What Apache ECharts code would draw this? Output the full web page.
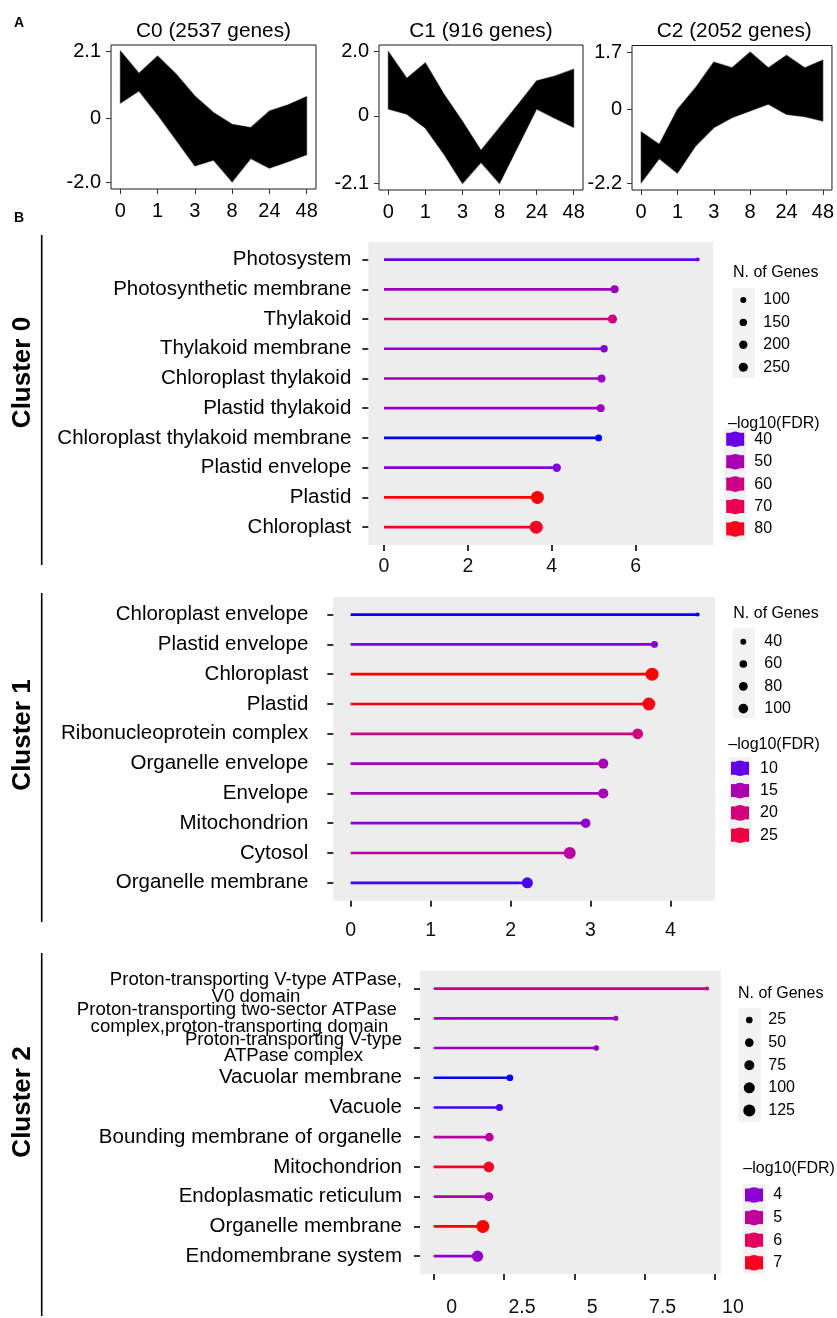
<!DOCTYPE html>
<html>
<head>
<meta charset="utf-8">
<script src="https://cdn.jsdelivr.net/npm/echarts@6/dist/echarts.min.js"></script>
<style>
  html, body { margin: 0; padding: 0; background: #fff; }
  #main { width: 837px; height: 1318px; }
</style>
</head>
<body>
<div id="main"></div>
<script>
// ---------- Panel A: expression profiles per cluster (envelope of all gene traces) ----------
const timeLabels = ['0', '1', '3', '8', '24', '48'];      // labelled sampling points (every second sample)
const profileNames = ['C0', 'C1', 'C2'];
const profileGeneCounts = [2537, 916, 2052];

const c0Upper = [2.12, 1.42, 1.96, 1.39, 0.71, 0.19, -0.18, -0.28, 0.24, 0.43, 0.69];
const c0Lower = [0.48, 0.86, 0.12, -0.68, -1.48, -1.30, -1.98, -1.25, -1.55, -1.35, -1.13];
const c1Upper = [2.00, 1.17, 1.65, 0.68, -0.17, -1.07, -0.36, 0.36, 1.09, 1.24, 1.45];
const c1Lower = [0.21, 0.05, -0.38, -1.19, -2.10, -1.45, -2.10, -0.94, 0.21, -0.08, -0.36];
const c2Upper = [-0.67, -1.04, 0.00, 0.65, 1.41, 1.24, 1.71, 1.24, 1.61, 1.24, 1.47];
const c2Lower = [-2.19, -1.47, -1.90, -1.09, -0.55, -0.25, -0.05, 0.15, -0.15, -0.22, -0.35];

const c0YTicks = [-2.0, 0, 2.1];
const c1YTicks = [-2.1, 0, 2.0];
const c2YTicks = [-2.2, 0, 1.7];

// ---------- Panel B: enriched cellular-component terms per cluster ----------
const c0Terms = ['Photosystem', 'Photosynthetic membrane', 'Thylakoid', 'Thylakoid membrane',
  'Chloroplast thylakoid', 'Plastid thylakoid', 'Chloroplast thylakoid membrane',
  'Plastid envelope', 'Plastid', 'Chloroplast'];
const c0Enrich = [7.48, 5.50, 5.45, 5.25, 5.19, 5.17, 5.12, 4.12, 3.66, 3.63];
const c0Genes = [71, 185, 250, 149, 169, 169, 123, 203, 611, 620];
const c0LogFdr = [40, 48, 60, 44, 47, 47.5, 35.3, 43, 82.3, 78];
const c0SizeBreaks = [100, 150, 200, 250];
const c0FdrBreaks = [40, 50, 60, 70, 80];
const c0XTicks = [0, 2, 4, 6];

const c1Terms = ['Chloroplast envelope', 'Plastid envelope', 'Chloroplast', 'Plastid',
  'Ribonucleoprotein complex', 'Organelle envelope', 'Envelope', 'Mitochondrion',
  'Cytosol', 'Organelle membrane'];
const c1Enrich = [4.34, 3.80, 3.77, 3.73, 3.59, 3.16, 3.16, 2.94, 2.74, 2.21];
const c1Genes = [32, 50, 202, 196, 126, 107, 108, 98, 166, 135];
const c1LogFdr = [8.1, 11.7, 29, 28.5, 19, 14.4, 14.4, 12.3, 16.5, 9.1];
const c1SizeBreaks = [40, 60, 80, 100];
const c1FdrBreaks = [10, 15, 20, 25];
const c1XTicks = [0, 1, 2, 3, 4];

const c2Terms = ['Proton-transporting V-type ATPase,\nV0 domain',
  'Proton-transporting two-sector ATPase \ncomplex,proton-transporting domain',
  'Proton-transporting V-type\nATPase complex', 'Vacuolar membrane', 'Vacuole',
  'Bounding membrane of organelle', 'Mitochondrion', 'Endoplasmatic reticulum',
  'Organelle membrane', 'Endomembrane system'];
const c2Enrich = [9.72, 6.48, 5.78, 2.71, 2.34, 1.98, 1.96, 1.96, 1.75, 1.56];
const c2Genes = [12, 14, 16, 25, 28, 51, 91, 55, 155, 106];
const c2LogFdr = [5.2, 4.2, 4.2, 3.2, 3.4, 4.85, 7.0, 4.6, 7.3, 4.1];
const c2SizeBreaks = [25, 50, 75, 100, 125];
const c2FdrBreaks = [4, 5, 6, 7];
const c2XTicks = [0, 2.5, 5, 7.5, 10];

const clusterLabels = ['Cluster 0', 'Cluster 1', 'Cluster 2'];

// ---------- helpers ----------
const FONT = 'Liberation Sans, Arial, Helvetica, sans-serif';

// blue -> red gradient interpolated in CIE Lab (like a continuous colour scale)
function toLin(c) { c /= 255; return c <= 0.04045 ? c / 12.92 : Math.pow((c + 0.055) / 1.055, 2.4); }
function fromLin(c) { c = Math.max(0, Math.min(1, c)); return c <= 0.0031308 ? 12.92 * c : 1.055 * Math.pow(c, 1 / 2.4) - 0.055; }
function rgbToLab(rgb) {
  const r = toLin(rgb[0]), g = toLin(rgb[1]), b = toLin(rgb[2]);
  const X = (0.4124 * r + 0.3576 * g + 0.1805 * b) / 0.95047;
  const Y = (0.2126 * r + 0.7152 * g + 0.0722 * b);
  const Z = (0.0193 * r + 0.1192 * g + 0.9505 * b) / 1.08883;
  const f = t => t > 0.008856 ? Math.cbrt(t) : 7.787 * t + 16 / 116;
  const fx = f(X), fy = f(Y), fz = f(Z);
  return [116 * fy - 16, 500 * (fx - fy), 200 * (fy - fz)];
}
function labToHex(lab) {
  const fy = (lab[0] + 16) / 116, fx = fy + lab[1] / 500, fz = fy - lab[2] / 200;
  const inv = t => t * t * t > 0.008856 ? t * t * t : (t - 16 / 116) / 7.787;
  const X = inv(fx) * 0.95047, Y = inv(fy), Z = inv(fz) * 1.08883;
  const r = 3.2406 * X - 1.5372 * Y - 0.4986 * Z;
  const g = -0.9689 * X + 1.8758 * Y + 0.0415 * Z;
  const b = 0.0557 * X - 0.2040 * Y + 1.0570 * Z;
  const h = v => Math.round(fromLin(v) * 255).toString(16).padStart(2, '0');
  return '#' + h(r) + h(g) + h(b);
}
const LAB_LOW = rgbToLab([0, 0, 255]);
const LAB_HIGH = rgbToLab([255, 0, 0]);
function fdrColor(v, lo, hi) {
  const t = Math.max(0, Math.min(1, (v - lo) / (hi - lo)));
  return labToHex([0, 1, 2].map(k => LAB_LOW[k] + t * (LAB_HIGH[k] - LAB_LOW[k])));
}
// point diameter: area-style size scale
const DOT_MIN = 4, DOT_MAX = 13;
function dotSize(n, lo, hi) {
  const t = Math.max(0, Math.min(1, (n - lo) / (hi - lo)));
  return DOT_MIN + (DOT_MAX - DOT_MIN) * Math.sqrt(t);
}

// ---------- layout ----------
const profileGrids = [
  { left: 111, top: 45, width: 205, height: 144 },
  { left: 379, top: 45, width: 204, height: 145 },
  { left: 632, top: 45.5, width: 204.5, height: 144.5 }
];
const profileYRange = [[-2.2, 2.3], [-2.3, 2.2], [-2.4, 1.9]];
const profileUpper = [c0Upper, c1Upper, c2Upper];
const profileLower = [c0Lower, c1Lower, c2Lower];
const profileYTicks = [c0YTicks, c1YTicks, c2YTicks];

const enrichGrids = [
  { left: 368.3, top: 241.7, width: 345, height: 303.3 },
  { left: 333.3, top: 596.7, width: 381.7, height: 304 },
  { left: 420, top: 970.7, width: 300.7, height: 311 }
];
const enrichSets = [
  { terms: c0Terms, enrich: c0Enrich, genes: c0Genes, fdr: c0LogFdr, xticks: c0XTicks, labelMargin: 17, xLabelMargin: 12, xPad: 0 },
  { terms: c1Terms, enrich: c1Enrich, genes: c1Genes, fdr: c1LogFdr, xticks: c1XTicks, labelMargin: 25, xLabelMargin: 20, xPad: 0 },
  { terms: c2Terms, enrich: c2Enrich, genes: c2Genes, fdr: c2LogFdr, xticks: c2XTicks, labelMargin: 18, xLabelMargin: 24, xPad: 36 }
];

const grids = [], xAxes = [], yAxes = [], series = [];

// Panel A grids
profileGrids.forEach((g, k) => {
  grids.push(Object.assign({ show: true, borderColor: '#1a1a1a', borderWidth: 1, backgroundColor: '#fff', containLabel: false }, g));
  xAxes.push({
    type: 'value', gridIndex: k, min: -0.5, max: 10.5, position: 'bottom',
    axisLine: { show: false, onZero: false }, splitLine: { show: false },
    axisTick: { show: true, length: 5, lineStyle: { color: '#333', width: 1 }, customValues: timeLabels.map((_, i) => i * 2) },
    axisLabel: { customValues: timeLabels.map((_, i) => i * 2), formatter: v => timeLabels[Math.round(v / 2)],
      showMinLabel: true, showMaxLabel: true, hideOverlap: false,
      color: '#000', fontSize: 20, fontFamily: FONT, margin: 12 }
  });
  yAxes.push({
    type: 'value', gridIndex: k, min: profileYRange[k][0], max: profileYRange[k][1], position: 'left',
    axisLine: { show: false, onZero: false }, splitLine: { show: false },
    axisTick: { show: true, length: 5, lineStyle: { color: '#333', width: 1 }, customValues: profileYTicks[k] },
    axisLabel: { customValues: profileYTicks[k], formatter: v => v === 0 ? '0' : v.toFixed(1),
      showMinLabel: true, showMaxLabel: true, hideOverlap: false,
      color: '#000', fontSize: 20, fontFamily: FONT, margin: 10 }
  });
  const up = profileUpper[k], lo = profileLower[k];
  series.push({
    type: 'custom', xAxisIndex: k, yAxisIndex: k, silent: true,
    data: up.map((u, i) => [i, u, lo[i]]),
    encode: { x: 0, y: [1, 2] },
    renderItem(params, api) {
      if (params.dataIndex !== 0) return null;
      const pts = [];
      for (let i = 0; i < up.length; i++) pts.push(api.coord([i, up[i]]));
      for (let i = lo.length - 1; i >= 0; i--) pts.push(api.coord([i, lo[i]]));
      return { type: 'polygon', shape: { points: pts },
        style: { fill: '#000', stroke: 'rgba(0,0,0,0.45)', lineWidth: 1.2, lineJoin: 'round' } };
    }
  });
});

// Panel B grids: term labels are split over two stacked y axes (even / odd rows)
// so that tall two-line labels never collide with their neighbours.
enrichGrids.forEach((g, j) => {
  const k = j + 3;
  const s = enrichSets[j];
  const maxV = Math.max(...s.enrich);
  grids.push(Object.assign({ show: true, borderWidth: 0, backgroundColor: '#EDEDED', containLabel: false }, g));
  xAxes.push({
    type: 'value', gridIndex: k, min: -0.05 * maxV, max: 1.05 * maxV, position: 'bottom',
    axisLine: { show: false, onZero: false }, splitLine: { show: false },
    axisTick: { show: true, length: 6, lineStyle: { color: '#333', width: 2 }, customValues: s.xticks },
    axisLabel: { customValues: s.xticks, color: '#111', fontSize: 19.5, fontFamily: FONT,
      showMinLabel: true, showMaxLabel: true, hideOverlap: false,
      margin: s.xLabelMargin, padding: [0, 0, 0, s.xPad] }
  });
  const nT = s.terms.length;
  const rows = s.terms.map((_, i) => i);
  const yIndexMain = yAxes.length;
  [0, 1].forEach(parity => {
    const vals = rows.filter(i => i % 2 === parity);
    yAxes.push({
      type: 'value', gridIndex: k, inverse: true, min: -0.6, max: nT - 1 + 0.6, position: 'left', offset: 0,
      axisLine: { show: false, onZero: false }, splitLine: { show: false },
      axisTick: { show: true, length: 6, lineStyle: { color: '#333', width: 2 }, customValues: vals },
      axisLabel: {
        customValues: vals,
        showMinLabel: true, showMaxLabel: true, hideOverlap: false,
        formatter: v => {
          const t = s.terms[Math.round(v)];
          if (t.indexOf('\n') < 0) return t;
          return t.split('\n').map(l => '{m|' + l + '}').join('\n');
        },
        color: '#000', fontSize: 20.5, fontFamily: FONT, margin: s.labelMargin, align: 'right',
        rich: { m: { fontSize: 18.6, lineHeight: 16.5, align: 'center', fontFamily: FONT, color: '#000' } }
      }
    });
  });
  const nLo = Math.min(...s.genes), nHi = Math.max(...s.genes);
  const fLo = Math.min(...s.fdr), fHi = Math.max(...s.fdr);
  series.push({
    type: 'custom', xAxisIndex: k, yAxisIndex: yIndexMain, silent: true,
    data: s.enrich.map((v, i) => [v, i, s.genes[i], s.fdr[i]]),
    encode: { x: 0, y: 1 },
    renderItem(params, api) {
      const v = api.value(0), i = api.value(1);
      const p0 = api.coord([0, i]), p1 = api.coord([v, i]);
      const col = fdrColor(api.value(3), fLo, fHi);
      const d = dotSize(api.value(2), nLo, nHi);
      return { type: 'group', children: [
        { type: 'line', shape: { x1: p0[0], y1: p0[1], x2: p1[0], y2: p1[1] }, style: { stroke: col, lineWidth: 2.7 } },
        { type: 'circle', shape: { cx: p1[0], cy: p1[1], r: d / 2 }, style: { fill: col } }
      ] };
    }
  });
});

// ---------- decorations: titles, panel letters, cluster labels, legends ----------
function txt(x, y, text, opt) {
  return {
    type: 'text', silent: true,
    style: Object.assign({ x, y, text, fill: '#000', fontFamily: FONT, fontSize: 16,
      align: 'left', verticalAlign: 'middle', textAlign: 'left', textVerticalAlign: 'middle' }, opt || {})
  };
}
const graphics = [];
graphics.push(txt(19, 23, 'A', { fontSize: 14, fontWeight: 'bold', align: 'center', textAlign: 'center' }));
graphics.push(txt(19, 218, 'B', { fontSize: 14, fontWeight: 'bold', align: 'center', textAlign: 'center' }));
profileGrids.forEach((g, k) => {
  graphics.push(txt(g.left + g.width / 2, 31, profileNames[k] + ' (' + profileGeneCounts[k] + ' genes)',
    { fontSize: 20.8, align: 'center', textAlign: 'center' }));
});

// cluster brackets on the left
const bracketSpans = [[235, 565], [593, 922], [953, 1316]];
const clusterLabelY = [372.5, 735, 1102];
bracketSpans.forEach((sp, j) => {
  graphics.push({ type: 'line', silent: true, shape: { x1: 41.7, y1: sp[0], x2: 41.7, y2: sp[1] },
    style: { stroke: '#000', lineWidth: 1.6 } });
  graphics.push({
    type: 'text', silent: true, x: 22.5, y: clusterLabelY[j], rotation: Math.PI / 2,
    style: { x: 0, y: 0, text: clusterLabels[j], fill: '#000', fontFamily: FONT, fontSize: 26, fontWeight: 'bold',
      align: 'center', verticalAlign: 'middle', textAlign: 'center', textVerticalAlign: 'middle' }
  });
});

// legends
const legendLayout = [
  { sizeTitle: [733, 273], sizeBg: [732.7, 288, 22.3, 90], dotX: 743.3, sizeLabelX: 763.3, sizeY0: 300, step: 22.4,
    fdrTitle: [728, 423.3], fdrKeyX: 735.2, fdrLabelX: 754.3, fdrY0: 439.3, fdrBgX: 724 },
  { sizeTitle: [733.3, 613.3], sizeBg: [732.7, 628, 22.3, 90], dotX: 743.3, sizeLabelX: 764.3, sizeY0: 641.7, step: 22.3,
    fdrTitle: [728.3, 745], fdrKeyX: 740, fdrLabelX: 760, fdrY0: 768.3, fdrBgX: 729 },
  { sizeTitle: [738, 993.3], sizeBg: [738.3, 1008, 22.4, 113.7], dotX: 749.3, sizeLabelX: 768.3, sizeY0: 1020, step: 22.6,
    fdrTitle: [743.3, 1168.3], fdrKeyX: 754, fdrLabelX: 773.3, fdrY0: 1195, fdrBgX: 743 }
];
const sizeBreakSets = [c0SizeBreaks, c1SizeBreaks, c2SizeBreaks];
const fdrBreakSets = [c0FdrBreaks, c1FdrBreaks, c2FdrBreaks];
legendLayout.forEach((L, j) => {
  const s = enrichSets[j];
  const nLo = Math.min(...s.genes), nHi = Math.max(...s.genes);
  const fLo = Math.min(...s.fdr), fHi = Math.max(...s.fdr);
  graphics.push(txt(L.sizeTitle[0], L.sizeTitle[1], 'N. of Genes'));
  graphics.push({ type: 'rect', silent: true, shape: { x: L.sizeBg[0], y: L.sizeBg[1], width: L.sizeBg[2], height: L.sizeBg[3] },
    style: { fill: '#F2F2F2' } });
  sizeBreakSets[j].forEach((b, i) => {
    const y = L.sizeY0 + i * L.step;
    graphics.push({ type: 'circle', silent: true, shape: { cx: L.dotX, cy: y, r: dotSize(b, nLo, nHi) / 2 }, style: { fill: '#000' } });
    graphics.push(txt(L.sizeLabelX, y, String(b)));
  });
  graphics.push(txt(L.fdrTitle[0], L.fdrTitle[1], '\u2013log10(FDR)'));
  const fb = fdrBreakSets[j];
  graphics.push({ type: 'rect', silent: true,
    shape: { x: L.fdrBgX, y: L.fdrY0 - 11, width: 2 * (L.fdrKeyX - L.fdrBgX), height: (fb.length - 1) * L.step + 22 },
    style: { fill: '#F2F2F2' } });
  fb.forEach((b, i) => {
    const y = L.fdrY0 + i * L.step;
    const col = fdrColor(b, fLo, fHi);
    graphics.push({ type: 'rect', silent: true, shape: { x: L.fdrKeyX - 9, y: y - 6.5, width: 18, height: 13 }, style: { fill: col } });
    graphics.push({ type: 'circle', silent: true, shape: { cx: L.fdrKeyX, cy: y, r: 7.8 }, style: { fill: col } });
    graphics.push(txt(L.fdrLabelX, y, String(b)));
  });
});

const chart = echarts.init(document.getElementById('main'), null, { renderer: 'canvas' });
chart.setOption({
  animation: false,
  backgroundColor: '#fff',
  grid: grids,
  xAxis: xAxes,
  yAxis: yAxes,
  series: series,
  graphic: { elements: graphics }
});
</script>
</body>
</html>
